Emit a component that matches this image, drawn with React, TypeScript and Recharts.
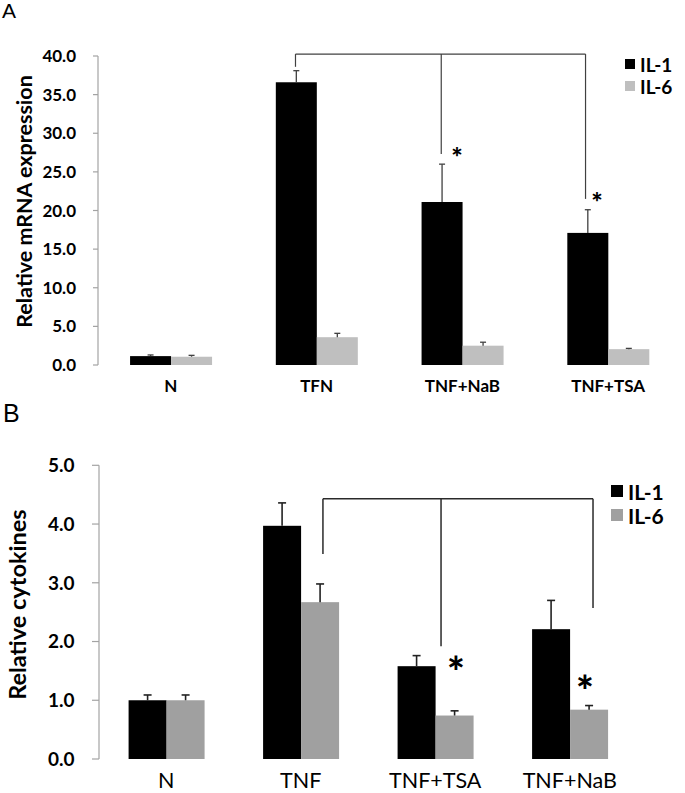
import React from 'react';
import { BarChart, Bar, XAxis, YAxis, ReferenceLine, ReferenceDot, Legend } from 'recharts';

// ---------- Panel A data ----------
const categoriesA = ['N', 'TFN', 'TNF+NaB', 'TNF+TSA'];
const il1A = [1.15, 36.6, 21.1, 17.1];
const il1ErrA = [0.15, 1.5, 4.9, 3.0];
const il6A = [1.07, 3.6, 2.5, 2.05];
const il6ErrA = [0.18, 0.5, 0.45, 0.1];
const yTicksA = [0, 5, 10, 15, 20, 25, 30, 35, 40];
const bracketXsA = [1.355, 2.355, 3.345];
const bracketTopA = 40.25;
const bracketEndsA = [38.6, 27.3, 21.5];
const starXsA = [2.463, 3.424];
const starYsA = [27.6, 21.8];

// ---------- Panel B data ----------
const categoriesB = ['N', 'TNF', 'TNF+TSA', 'TNF+NaB'];
const il1B = [1.0, 3.97, 1.58, 2.21];
const il1ErrB = [0.09, 0.39, 0.18, 0.49];
const il6B = [1.0, 2.67, 0.74, 0.84];
const il6ErrB = [0.09, 0.31, 0.08, 0.07];
const yTicksB = [0, 1, 2, 3, 4, 5];
const bracketXsB = [1.665, 2.543, 3.673];
const bracketTopB = 4.43;
const bracketEndsB = [3.49, 1.92, 2.57];
const starXsB = [2.654, 3.613];
const starYsB = [1.63, 1.31];

// category slot centres on a 0..4 numeric scale (one slot per category)
const slotCentres = [0.5, 1.5, 2.5, 3.5];
const slotTicks = [0, 1, 2, 3, 4];

const buildRows = (cats: string[], a: number[], ae: number[], b: number[], be: number[]) =>
  cats.map((name, i) => ({ name, slot: slotCentres[i], il1: a[i], il1Err: ae[i], il6: b[i], il6Err: be[i] }));

const dataA = buildRows(categoriesA, il1A, il1ErrA, il6A, il6ErrA);
const dataB = buildRows(categoriesB, il1B, il1ErrB, il6B, il6ErrB);

const FONT = 'Lato, "Open Sans", sans-serif';
const AXIS = '#a3a3a3';

const makeShape = (valKey: string, errKey: string, fill: string, stroke: string, cap: number, sw: number) =>
  (props: any) => {
    const { x, y, width, height, payload } = props;
    const v = payload[valKey];
    const e = payload[errKey];
    const ppu = v ? height / v : 0;
    const cx = x + width / 2;
    const ey = y - e * ppu;
    return (
      <g>
        <rect x={x} y={y} width={width} height={height} fill={fill} />
        <line x1={cx} x2={cx} y1={y} y2={ey} stroke={stroke} strokeWidth={sw} />
        <line x1={cx - cap / 2} x2={cx + cap / 2} y1={ey} y2={ey} stroke={stroke} strokeWidth={sw} />
      </g>
    );
  };

const LegendBox = (props: any, box: number, fontSize: number, rowH: number) => {
  const payload = props.payload || [];
  return (
    <div style={{ fontFamily: FONT, fontWeight: 700, fontSize, color: '#000' }}>
      {payload.map((it: any) => (
        <div key={it.value} style={{ display: 'flex', alignItems: 'center', height: rowH, whiteSpace: 'nowrap' }}>
          <span style={{ display: 'inline-block', width: box, height: box, background: it.color, marginRight: 5 }} />
          <span>{it.value}</span>
        </div>
      ))}
    </div>
  );
};

const Panel = (c: any) => (
  <BarChart width={c.width} height={c.height} data={c.data} margin={c.margin} barCategoryGap="22%" barGap={0}>
    <XAxis
      xAxisId="num"
      dataKey="slot"
      type="number"
      domain={[0, 4]}
      ticks={slotTicks}
      allowDataOverflow
      tickFormatter={() => ''}
      height={0}
      tickSize={c.slotTickSize}
      axisLine={{ stroke: AXIS, strokeWidth: 1.2 }}
      tickLine={{ stroke: AXIS, strokeWidth: 1.2 }}
    />
    <XAxis
      xAxisId="cat"
      dataKey="name"
      type="category"
      interval={0}
      axisLine={false}
      tickLine={false}
      height={c.xHeight}
      tickSize={6}
      tickMargin={c.xTickMargin}
      tick={{ fontFamily: FONT, fontSize: c.xFont, fontWeight: c.xWeight, fill: '#000' }}
    />
    <YAxis
      domain={c.yDomain}
      ticks={c.yTicks}
      interval={0}
      width={c.yWidth}
      tickSize={c.yTickSize}
      tickMargin={c.yTickMargin}
      tickFormatter={(v: number) => v.toFixed(1)}
      axisLine={{ stroke: AXIS, strokeWidth: 1.2 }}
      tickLine={{ stroke: AXIS, strokeWidth: 1.2 }}
      tick={{ fontFamily: FONT, fontSize: c.yFont, fontWeight: 700, fill: '#000' }}
      label={{
        content: (p: any) => {
          const vb = p.viewBox || { y: 0, height: 0 };
          const cy = vb.y + vb.height / 2 + c.yTitleShift;
          return (
            <text
              x={c.yTitleX}
              y={cy}
              transform={`rotate(-90, ${c.yTitleX}, ${cy})`}
              textAnchor="middle"
              fontFamily={FONT}
              fontWeight={700}
              fontSize={c.yTitleFont}
              fill="#000"
            >
              {c.yTitle}
            </text>
          );
        },
      }}
    />
    <Legend
      layout="vertical"
      align="center"
      verticalAlign="middle"
      wrapperStyle={{ left: c.legendLeft, top: c.legendTop, width: 'auto', height: 'auto' }}
      content={(p: any) => LegendBox(p, c.legendBox, c.legendFont, c.legendRow)}
    />
    <Bar
      xAxisId="cat"
      dataKey="il1"
      name="IL-1"
      fill="#000000"
      isAnimationActive={false}
      shape={makeShape('il1', 'il1Err', '#000000', c.whisker, c.cap, c.whiskerW)}
    />
    <Bar
      xAxisId="cat"
      dataKey="il6"
      name="IL-6"
      fill={c.gray}
      isAnimationActive={false}
      shape={makeShape('il6', 'il6Err', c.gray, c.whisker, c.cap, c.whiskerW)}
    />
    <ReferenceLine
      xAxisId="num"
      ifOverflow="visible"
      segment={[
        { x: c.bracketXs[0], y: c.bracketTop },
        { x: c.bracketXs[c.bracketXs.length - 1], y: c.bracketTop },
      ]}
      stroke={c.bracketColor}
      strokeWidth={c.bracketW}
    />
    {c.bracketXs.map((bx: number, i: number) => (
      <ReferenceLine
        key={'br' + i}
        xAxisId="num"
        ifOverflow="visible"
        segment={[
          { x: bx, y: c.bracketTop },
          { x: bx, y: c.bracketEnds[i] },
        ]}
        stroke={c.bracketColor}
        strokeWidth={c.bracketW}
      />
    ))}
    {c.starXs.map((sx: number, i: number) => (
      <ReferenceDot
        key={'st' + i}
        xAxisId="num"
        x={sx}
        y={c.starYs[i]}
        r={0}
        ifOverflow="visible"
        shape={(p: any) => (
          <text
            x={p.cx}
            y={p.cy + c.starFont * 0.56}
            textAnchor="middle"
            fontFamily={FONT}
            fontWeight={900}
            fontSize={c.starFont}
            fill="#000"
          >
            *
          </text>
        )}
      />
    ))}
  </BarChart>
);

export default function App() {
  return (
    <div style={{ position: 'absolute', left: 0, top: 0, width: 685, height: 793, background: '#fff', overflow: 'hidden' }}>
      <div style={{ position: 'absolute', left: 2, top: 0, fontFamily: '"Liberation Sans", Arial, sans-serif', fontSize: 21, lineHeight: 1, color: '#000' }}>A</div>
      <div style={{ position: 'absolute', left: 3, top: 401, fontFamily: '"Liberation Sans", Arial, sans-serif', fontSize: 25, lineHeight: 1, color: '#000' }}>B</div>
      <div style={{ position: 'absolute', left: 0, top: 0 }}>
        {Panel({
          data: dataA,
          width: 685,
          height: 405,
          margin: { top: 56, right: 4, left: 0, bottom: 15 },
          yDomain: [0, 40],
          yTicks: yTicksA,
          yWidth: 98,
          yTickSize: 5,
          yTickMargin: 17,
          yFont: 17,
          yTitle: 'Relative mRNA expression',
          yTitleFont: 21.5,
          yTitleX: 32,
          yTitleShift: -9,
          xHeight: 25,
          xTickMargin: 9,
          xFont: 17,
          xWeight: 700,
          slotTickSize: 7,
          gray: '#bfbfbf',
          whisker: '#404040',
          cap: 6,
          whiskerW: 1.3,
          bracketXs: bracketXsA,
          bracketTop: bracketTopA,
          bracketEnds: bracketEndsA,
          bracketColor: '#404040',
          bracketW: 1.2,
          starXs: starXsA,
          starYs: starYsA,
          starFont: 27,
          legendLeft: 625,
          legendTop: 53,
          legendBox: 10,
          legendFont: 19,
          legendRow: 22,
        })}
      </div>
      <div style={{ position: 'absolute', left: 0, top: 393 }}>
        {Panel({
          data: dataB,
          width: 685,
          height: 400,
          margin: { top: 72.3, right: 48, left: 0, bottom: 4 },
          yDomain: [0, 5],
          yTicks: yTicksB,
          yWidth: 99,
          yTickSize: 7,
          yTickMargin: 17.5,
          yFont: 19,
          yTitle: 'Relative cytokines',
          yTitleFont: 23.5,
          yTitleX: 26,
          yTitleShift: -7.5,
          xHeight: 30,
          xTickMargin: 8,
          xFont: 21.5,
          xWeight: 400,
          slotTickSize: 8,
          gray: '#a0a0a0',
          whisker: '#222222',
          cap: 8,
          whiskerW: 1.6,
          bracketXs: bracketXsB,
          bracketTop: bracketTopB,
          bracketEnds: bracketEndsB,
          bracketColor: '#2a2a2a',
          bracketW: 1.5,
          starXs: starXsB,
          starYs: starYsB,
          starFont: 42,
          legendLeft: 611,
          legendTop: 86,
          legendBox: 12,
          legendFont: 21,
          legendRow: 24,
        })}
      </div>
    </div>
  );
}
